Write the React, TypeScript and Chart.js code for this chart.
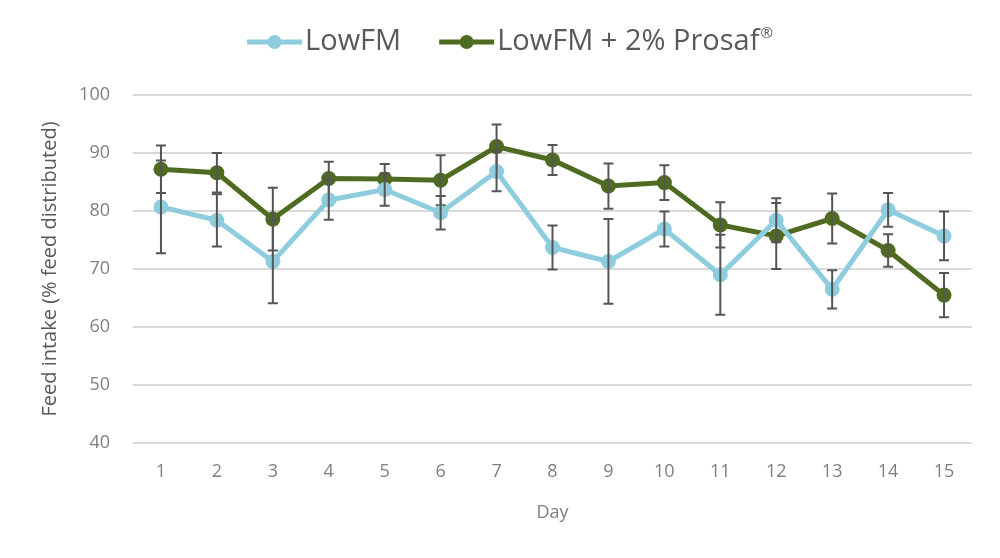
import React, { useEffect, useRef } from "react";
import { Chart, registerables } from "chart.js";

Chart.register(...registerables);

const days = ["1", "2", "3", "4", "5", "6", "7", "8", "9", "10", "11", "12", "13", "14", "15"];
const lowFM = [80.7, 78.4, 71.3, 81.9, 83.7, 79.7, 86.8, 73.7, 71.3, 76.9, 69.0, 78.4, 66.5, 80.2, 75.7];
const lowFMErr = [8.0, 4.5, 7.2, 3.4, 2.8, 2.9, 3.4, 3.8, 7.3, 3.0, 6.9, 3.8, 3.3, 2.9, 4.2];
const prosaf = [87.2, 86.6, 78.6, 85.6, 85.5, 85.3, 91.1, 88.8, 84.3, 84.9, 77.6, 75.7, 78.7, 73.2, 65.5];
const prosafErr = [4.1, 3.4, 5.4, 2.9, 2.6, 4.3, 3.8, 2.6, 3.9, 3.0, 3.9, 5.7, 4.3, 2.8, 3.8];

const BLUE = "#8dcddd";
const GREEN = "#4f6b22";
const FONT = "'Open Sans', 'Noto Sans', sans-serif";

const errorBarPlugin = {
  id: "errorBars",
  afterDatasetDraw(chart: any, args: any) {
    const ds = chart.data.datasets[args.index];
    const errs: number[] = ds.errors;
    if (!errs) return;
    const meta = chart.getDatasetMeta(args.index);
    const y = chart.scales.y;
    const ctx = chart.ctx;
    ctx.save();
    ctx.strokeStyle = "#555555";
    ctx.lineWidth = 2;
    meta.data.forEach((pt: any, i: number) => {
      const v = ds.data[i];
      const e = errs[i];
      const x = pt.x;
      const yt = y.getPixelForValue(v + e);
      const yb = y.getPixelForValue(v - e);
      ctx.beginPath();
      ctx.moveTo(x, yt);
      ctx.lineTo(x, yb);
      ctx.moveTo(x - 5, yt);
      ctx.lineTo(x + 5, yt);
      ctx.moveTo(x - 5, yb);
      ctx.lineTo(x + 5, yb);
      ctx.stroke();
    });
    ctx.restore();
  },
};

const legendPlugin = {
  id: "customLegend",
  afterDraw(chart: any) {
    const ctx = chart.ctx;
    const items = chart.data.datasets.map((d: any) => ({ label: d.label, sup: d.sup || "", color: d.borderColor }));
    const fontSize = 29;
    const lineW = 55;
    const gapText = 3;
    const gapItems = 38;
    ctx.save();
    const mainFont = `${fontSize}px ${FONT}`;
    const supFont = `${Math.round(fontSize * 0.5)}px ${FONT}`;
    const widths = items.map((it: any) => {
      ctx.font = mainFont;
      let w = ctx.measureText(it.label).width;
      if (it.sup) {
        ctx.font = supFont;
        w += ctx.measureText(it.sup).width + 1;
      }
      return w;
    });
    let total = 0;
    items.forEach((_: any, i: number) => {
      total += lineW + gapText + widths[i];
      if (i < items.length - 1) total += gapItems;
    });
    const cx = 510;
    const cy = 42;
    let x = cx - total / 2;
    items.forEach((it: any, i: number) => {
      ctx.strokeStyle = it.color;
      ctx.lineWidth = 5;
      ctx.beginPath();
      ctx.moveTo(x, cy);
      ctx.lineTo(x + lineW, cy);
      ctx.stroke();
      ctx.fillStyle = it.color;
      ctx.beginPath();
      ctx.arc(x + lineW / 2, cy, 7, 0, Math.PI * 2);
      ctx.fill();
      x += lineW + gapText;
      ctx.fillStyle = "#595959";
      ctx.textBaseline = "middle";
      ctx.textAlign = "left";
      ctx.font = mainFont;
      ctx.fillText(it.label, x, cy);
      const lw = ctx.measureText(it.label).width;
      if (it.sup) {
        ctx.font = supFont;
        ctx.fillText(it.sup, x + lw + 1, cy - 8);
      }
      x += widths[i] + gapItems;
    });
    ctx.restore();
  },
};

export default function App() {
  const ref = useRef<HTMLCanvasElement | null>(null);
  useEffect(() => {
    if (!ref.current) return;
    const chart = new Chart(ref.current, {
      type: "line",
      data: {
        labels: days,
        datasets: [
          {
            label: "LowFM",
            data: lowFM,
            errors: lowFMErr,
            borderColor: BLUE,
            backgroundColor: BLUE,
            borderWidth: 5,
            pointRadius: 7.5,
            pointHoverRadius: 7.5,
            pointBackgroundColor: BLUE,
            pointBorderWidth: 0,
            tension: 0,
          } as any,
          {
            label: "LowFM + 2% Prosaf",
            sup: "®",
            data: prosaf,
            errors: prosafErr,
            borderColor: GREEN,
            backgroundColor: GREEN,
            borderWidth: 5,
            pointRadius: 7.5,
            pointHoverRadius: 7.5,
            pointBackgroundColor: GREEN,
            pointBorderWidth: 0,
            tension: 0,
          } as any,
        ],
      },
      options: {
        animation: false,
        responsive: true,
        maintainAspectRatio: false,
        layout: { padding: { top: 95, right: 28, left: 0, bottom: 0 } },
        plugins: {
          legend: { display: false },
          tooltip: { enabled: false },
        },
        scales: {
          x: {
            type: "category",
            offset: true,
            grid: { display: false, drawTicks: false },
            border: { display: false },
            ticks: { color: "#7f7f7f", font: { family: FONT, size: 18 }, padding: 18 },
            title: {
              display: true,
              text: "Day",
              color: "#7f7f7f",
              font: { family: FONT, size: 18 },
              padding: { top: 0, bottom: 34 },
            },
            afterFit: (s: any) => {
              s.height = 115;
            },
          },
          y: {
            min: 40,
            max: 100,
            ticks: { stepSize: 10, color: "#7f7f7f", font: { family: FONT, size: 18 }, padding: 23 },
            grid: { color: "#d9d9d9", lineWidth: 2, drawTicks: false },
            border: { display: false },
            title: {
              display: true,
              text: "Feed intake (% feed distributed)",
              color: "#595959",
              font: { family: FONT, size: 20 },
              padding: { top: 38, bottom: 0 },
            },
            afterFit: (s: any) => {
              s.width = 133;
            },
          },
        },
      },
      plugins: [errorBarPlugin, legendPlugin],
    } as any);
    return () => chart.destroy();
  }, []);
  return (
    <div style={{ position: "fixed", left: 0, top: 0, width: 1000, height: 558, background: "#fff" }}>
      <canvas ref={ref} />
    </div>
  );
}
